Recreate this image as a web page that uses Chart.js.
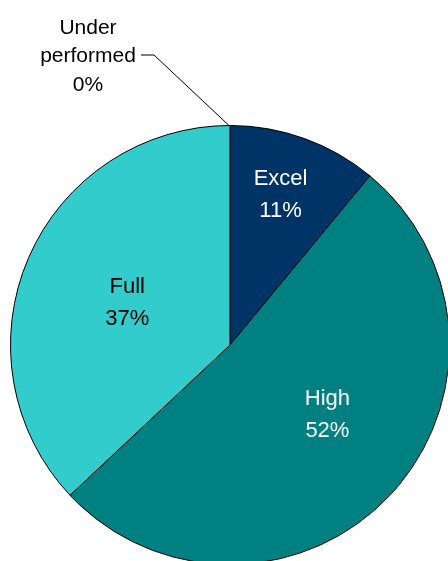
<!DOCTYPE html>
<html>
<head>
<meta charset="utf-8">
<script src="https://cdn.jsdelivr.net/npm/chart.js@4"></script>
<style>
  html, body { margin: 0; padding: 0; overflow: hidden; background: #fff; }
  #wrap { position: relative; width: 460px; height: 570px; }
</style>
</head>
<body>
<div id="wrap"><canvas id="myChart"></canvas></div>
<script>
// data
var labels = ["Excel", "High", "Full", "Under performed"];
var values = [11, 52, 37, 0];
var colors = ['#003366', '#008080', '#33CCCC', '#33CCCC'];
var textColors = ['#ffffff', '#ffffff', '#000000', '#000000'];

// label placement: fraction of radius plus a small nudge
var labelRadius = [0.72, 0.54, 0.51, 0];
var labelNudge = [[-3, -1], [11, -11], [0, 2], [0, 0]];

var labelPlugin = {
  id: 'sliceLabels',
  afterDatasetsDraw: function(chart) {
    var ctx = chart.ctx;
    var meta = chart.getDatasetMeta(0);
    ctx.save();
    ctx.textAlign = 'center';
    ctx.textBaseline = 'middle';
    meta.data.forEach(function(arc, i) {
      var p = arc.getProps(['x', 'y', 'startAngle', 'endAngle', 'outerRadius'], true);
      var mid = (p.startAngle + p.endAngle) / 2;
      var pct = values[i] + '%';
      if (values[i] > 0) {
        var r = p.outerRadius * labelRadius[i];
        var lx = p.x + Math.cos(mid) * r + labelNudge[i][0];
        var ly = p.y + Math.sin(mid) * r + labelNudge[i][1];
        ctx.fillStyle = textColors[i];
        ctx.font = '22px "Liberation Sans", Arial, sans-serif';
        ctx.fillText(labels[i], lx, ly - 16);
        ctx.fillText(pct, lx, ly + 16);
      } else {
        // outside label with leader line
        var ax = p.x + Math.cos(mid) * p.outerRadius;
        var ay = p.y + Math.sin(mid) * p.outerRadius;
        ctx.strokeStyle = '#000';
        ctx.lineWidth = 1;
        ctx.beginPath();
        ctx.moveTo(ax - 1, ay);
        ctx.lineTo(154, 55);
        ctx.lineTo(141, 55);
        ctx.stroke();
        ctx.fillStyle = '#000';
        ctx.font = '21px "Liberation Sans", Arial, sans-serif';
        var words = labels[i].split(' ');
        ctx.fillText(words[0], 88, 28);
        ctx.fillText(words[1], 88, 56);
        ctx.fillText(pct, 88, 85);
      }
    });
    ctx.restore();
  }
};

var ctx = document.getElementById("myChart").getContext('2d');
var myChart = new Chart(ctx, {
  type: 'pie',
  data: {
    labels: labels,
    datasets: [{
      data: values,
      backgroundColor: colors,
      borderColor: '#000000',
      borderWidth: 1
    }]
  },
  options: {
    responsive: true,
    maintainAspectRatio: false,
    animation: false,
    layout: { padding: { left: 10, right: 10, top: 125, bottom: 5 } },
    plugins: {
      legend: { display: false },
      tooltip: { enabled: false }
    }
  },
  plugins: [labelPlugin]
});
</script>
</body>
</html>
